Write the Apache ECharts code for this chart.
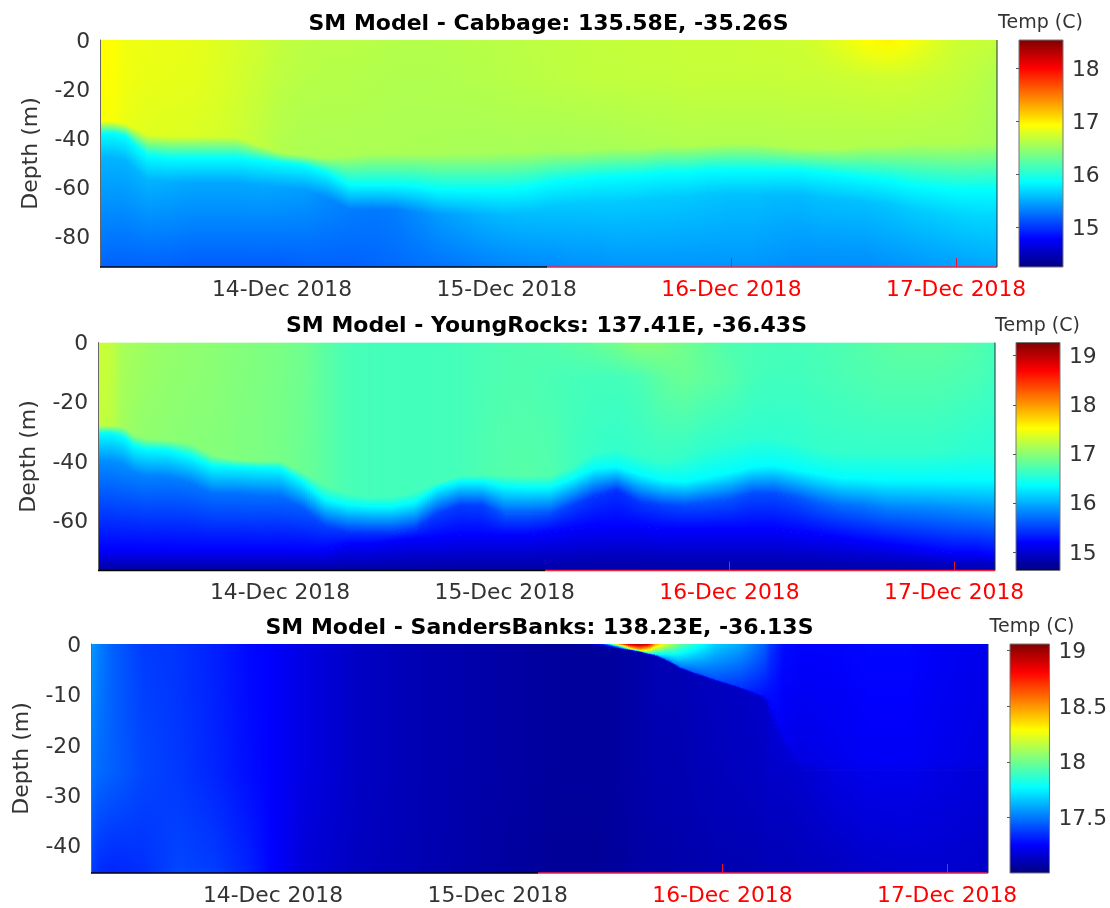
<!DOCTYPE html>
<html><head><meta charset="utf-8">
<style>html,body{margin:0;padding:0;background:#fff}#c{width:1110px;height:908px}</style>
<script src="https://cdn.jsdelivr.net/npm/echarts@6/dist/echarts.min.js"></script>
</head><body><div id="c"></div>
<script>
// Axis days (December 2018)
const dayTicks=[14,15,16,17];
const dayLabels=['14-Dec 2018','15-Dec 2018','16-Dec 2018','17-Dec 2018'];
const redTicks=[16,17];
const dayMin=13.19, dayMax=17.182, colourSwitchDay=15.18;
const jetColors=[[0,0,127],[0,0,255],[0,127,255],[0,255,255],[127,255,127],[255,255,0],[255,127,0],[255,0,0],[127,0,0]];

// Column times shared by Cabbage and YoungRocks
const times12=[13.19,13.25,13.3,13.35,13.4,13.5,13.6,13.7,13.8,13.9,14,14.1,14.2,14.3,14.4,14.5,14.6,14.7,14.8,14.9,15,15.1,15.2,15.3,15.4,15.5,15.6,15.7,15.8,15.9,16,16.1,16.2,16.3,16.4,16.5,16.6,16.7,16.8,16.9,17,17.1,17.182];

// Cabbage: depth (m) of the profile nodes and temperature at them, per column
const cabDepthS=[15,15,15,15,15,15,15,15,15,15,15,15,15,15,15,15,15,15,15,15,15,15,15,15,15,15,15,15,15,15,15,15,15,15,15,15,15,15,15,15,15,15,15];
const cabDepth1=[33,33,34,36,38.5,39,39,39,39.5,43,46,47,48,47,46,46,46,46,46,46,45.5,45.5,45,45,44.5,44,44,43,43,42.5,42,42,43,44,44,44,43,43,42,42,42,42,42];
const cabDepth2=[38,38,39,43,47,48,48,48,48,49,50,51,54,59,59,59,59.5,61,61,61,61,60,58,57,56,55.5,55,54,54,53,53,53,53,53,54,55,56,57,59,60,61,61,61];
const cabDepth3=[48,48,49,53,57,58,58,58,58,59,60,61,64,69,69,69,70,71,71,71,71,70,68,67,66,66,65,64,64,63,63,63,63,63,64,65,66,67,69,70,71,71,71];
const cabTemp0=[16.93,16.93,16.87,16.86,16.85,16.84,16.83,16.8,16.76,16.72,16.67,16.65,16.64,16.64,16.63,16.62,16.62,16.62,16.63,16.63,16.64,16.65,16.66,16.67,16.68,16.68,16.69,16.69,16.7,16.7,16.7,16.71,16.71,16.72,16.76,16.84,16.93,16.97,16.9,16.8,16.72,16.7,16.68];
const cabTempS=[16.93,16.92,16.87,16.85,16.84,16.83,16.82,16.79,16.75,16.7,16.65,16.63,16.62,16.62,16.61,16.6,16.6,16.6,16.61,16.62,16.63,16.64,16.65,16.66,16.67,16.67,16.68,16.68,16.69,16.69,16.69,16.69,16.69,16.7,16.7,16.71,16.72,16.73,16.72,16.7,16.68,16.64,16.6];
const cabTemp1=[16.9,16.9,16.85,16.82,16.8,16.79,16.78,16.76,16.72,16.66,16.6,16.58,16.58,16.58,16.58,16.58,16.57,16.57,16.56,16.56,16.56,16.56,16.55,16.56,16.56,16.57,16.58,16.59,16.6,16.6,16.6,16.6,16.6,16.6,16.6,16.6,16.6,16.6,16.6,16.6,16.6,16.58,16.55];
const cabTemp2=[15.86,15.86,15.86,15.86,15.86,15.86,15.86,15.86,15.86,15.86,15.86,15.86,15.86,15.86,15.86,15.86,15.86,15.86,15.86,15.86,15.86,15.86,15.86,15.86,15.86,15.86,15.86,15.86,15.86,15.86,15.86,15.86,15.86,15.86,15.86,15.86,15.86,15.86,15.86,15.86,15.86,15.86,15.86];
const cabTemp3=[15.55,15.55,15.55,15.55,15.55,15.52,15.5,15.5,15.5,15.5,15.48,15.45,15.38,15.32,15.3,15.32,15.38,15.45,15.5,15.55,15.58,15.6,15.62,15.63,15.64,15.64,15.64,15.64,15.63,15.62,15.6,15.6,15.58,15.58,15.6,15.6,15.6,15.62,15.64,15.66,15.68,15.7,15.7];
const cabTemp4=[15.22,15.2,15.2,15.2,15.2,15.2,15.18,15.18,15.18,15.18,15.18,15.2,15.2,15.2,15.22,15.24,15.26,15.28,15.3,15.33,15.35,15.37,15.38,15.4,15.4,15.42,15.42,15.42,15.42,15.42,15.42,15.42,15.4,15.38,15.38,15.38,15.38,15.4,15.42,15.44,15.46,15.48,15.5];

// YoungRocks
const yrDepthS=[12,12,12,12,12,12,12,12,12,12,12,12,12,12,12,12,12,12,12,12,12,12,12,12,12,12,12,12,12,12,12,12,12,12,12,12,12,12,12,12,12,12,12];
const yrDepth1=[28,28,28.4,31,32.5,33,34,38,39.5,40,40,43.6,48,51,52,52,50.5,47.5,45,44.7,44.7,45,45,42,37,36,38,40,39,36,34,32,32,34,36,37,37,37,37,37,37,37,37];
const yrDepth2=[30.7,30.7,31.8,35,36,36.3,38.5,41.8,42,42.3,42.5,47,53,54.8,55.4,55.4,54,49,47,47,48.7,49,49,46,42.5,42,44.5,46.5,47,45.5,44,42,41.5,43,44.5,45.8,46,46.4,46.4,46.4,46.4,46.4,46.4];
const yrDepth3=[40,40,41,44,45,45.5,47.5,51,51,51.5,52,56,62,64,64.5,64.5,63,58,55,55,58,58,58,55,52,50,54,55,55,54,53,51,51,52.5,54,55,55,56,56,56,56,56,56];
const yrDepth4=[70,70,70,70,70,70,70,70,70,70,70,70,70,68,68,67,66,66,65,65,65,65,64,63,62,62,62,63,63,63,63,63,63,64,65,66,67,68,69,70,71,71,72];
const yrTemp0=[17.29,17.25,17.12,17.1,17.08,17.04,17.02,17,16.97,16.95,16.92,16.88,16.78,16.7,16.68,16.67,16.67,16.67,16.68,16.7,16.72,16.73,16.74,16.78,16.82,16.9,17,16.96,16.88,16.8,16.72,16.7,16.68,16.68,16.7,16.72,16.75,16.78,16.8,16.8,16.78,16.74,16.68];
const yrTempS=[17.28,17.24,17.12,17.09,17.06,17.03,17.01,16.99,16.96,16.94,16.91,16.87,16.78,16.7,16.68,16.67,16.67,16.67,16.68,16.7,16.72,16.72,16.7,16.68,16.67,16.67,16.7,16.8,16.85,16.8,16.76,16.68,16.66,16.66,16.68,16.7,16.72,16.74,16.74,16.74,16.72,16.7,16.65];
const yrTemp1=[17.25,17.22,17.1,17.05,17.02,17,16.98,16.97,16.95,16.93,16.9,16.85,16.78,16.7,16.68,16.67,16.67,16.67,16.68,16.72,16.75,16.76,16.74,16.66,16.62,16.6,16.62,16.62,16.6,16.58,16.58,16.58,16.58,16.58,16.6,16.6,16.6,16.6,16.6,16.6,16.58,16.56,16.55];
const yrTemp2=[16.36,16.36,16.36,16.36,16.36,16.36,16.36,16.36,16.36,16.36,16.36,16.36,16.36,16.36,16.36,16.36,16.36,16.36,16.36,16.36,16.36,16.36,16.36,16.36,16.36,16.36,16.36,16.36,16.36,16.36,16.36,16.36,16.36,16.36,16.36,16.36,16.36,16.36,16.36,16.36,16.36,16.36,16.36];
const yrTemp3=[15.85,15.85,15.85,15.8,15.8,15.78,15.75,15.72,15.72,15.72,15.7,15.62,15.5,15.45,15.42,15.42,15.45,15.48,15.48,15.5,15.6,15.6,15.55,15.5,15.45,15.42,15.45,15.5,15.55,15.58,15.58,15.55,15.55,15.58,15.65,15.7,15.75,15.78,15.8,15.82,15.85,15.88,15.9];
const yrTemp4=[15.2,15.2,15.2,15.2,15.2,15.2,15.2,15.2,15.2,15.2,15.2,15.2,15.2,15.2,15.2,15.2,15.2,15.2,15.2,15.2,15.2,15.2,15.2,15.2,15.2,15.2,15.2,15.2,15.2,15.2,15.2,15.2,15.2,15.2,15.2,15.2,15.2,15.2,15.2,15.2,15.2,15.2,15.2];
const yrTemp5=[14.78,14.78,14.78,14.78,14.78,14.78,14.78,14.78,14.78,14.78,14.78,14.78,14.78,14.78,14.78,14.78,14.78,14.78,14.78,14.78,14.78,14.78,14.78,14.78,14.78,14.78,14.78,14.78,14.78,14.78,14.78,14.78,14.78,14.78,14.78,14.78,14.78,14.78,14.78,14.78,14.78,14.78,14.78];

// SandersBanks
const times3=[13.19,13.23,13.29,13.42,13.58,13.74,13.9,13.98,14.14,14.38,14.7,15,15.25,15.4,15.45,15.49,15.54,15.59,15.63,15.67,15.7,15.75,15.81,15.87,15.97,16.08,16.19,16.21,16.27,16.35,16.5,16.66,16.82,16.98,17.182];
const sbDepth1=[0,0,0,0,0,0,0,0,0,0,0,0,0,0,0,0.3,0.6,0.9,1.2,1.7,2,3,4.5,5.5,7,8.5,10.2,12.5,18,23.5,23.5,23.5,23.5,23.5,23.5];
const sbDepth2=[0.4,0.4,0.4,0.4,0.4,0.4,0.4,0.4,0.4,0.4,0.4,0.4,0.4,0.4,0.4,0.7,1,1.3,1.6,2.1,2.4,3.4,4.9,5.9,7.4,8.9,11.2,14,20,25,25,25,25,25,25];
const sbDepth3=[25.5,25.5,25.5,25.5,25.5,25.5,25.5,25.5,25.5,25.5,25.5,25.5,25.5,25.5,25.5,25.5,25.5,25.5,25.5,25.5,25.5,25.5,25.5,25.5,25.5,25.5,25.5,25.5,25.5,25.5,25.5,25.5,25.5,25.5,25.5];
const sbTemp0=[17.58,17.52,17.45,17.38,17.34,17.32,17.27,17.26,17.2,17.14,17.1,17.08,17.06,17.06,17.3,17.6,18.6,18.95,18.98,18.9,18.5,18.2,17.98,17.85,17.68,17.6,17.45,17.38,17.28,17.26,17.26,17.27,17.27,17.24,17.22];
const sbTemp1=[17.58,17.52,17.45,17.38,17.34,17.32,17.27,17.26,17.2,17.14,17.1,17.08,17.06,17.06,17.3,17.3,17.6,18.3,18.4,18,17.75,17.55,17.5,17.45,17.42,17.36,17.28,17.25,17.23,17.2,17.22,17.24,17.24,17.22,17.2];
const sbTemp2=[17.57,17.51,17.45,17.38,17.36,17.32,17.27,17.26,17.2,17.14,17.1,17.08,17.06,17.06,17.06,17.06,17.07,17.08,17.09,17.1,17.11,17.11,17.11,17.12,17.13,17.14,17.15,17.17,17.18,17.16,17.2,17.22,17.22,17.2,17.18];
const sbTemp3=[17.5,17.47,17.45,17.4,17.37,17.33,17.28,17.26,17.2,17.14,17.1,17.08,17.06,17.06,17.06,17.06,17.07,17.08,17.09,17.09,17.1,17.1,17.1,17.11,17.12,17.13,17.14,17.15,17.15,17.16,17.2,17.22,17.22,17.2,17.18];
const sbTemp4=[17.38,17.34,17.33,17.35,17.4,17.38,17.32,17.27,17.18,17.13,17.1,17.07,17.05,17.05,17.05,17.06,17.06,17.07,17.07,17.08,17.08,17.08,17.09,17.09,17.1,17.1,17.11,17.11,17.11,17.12,17.13,17.15,17.16,17.16,17.15];

const zeros=n=>new Array(n).fill(0);
const flat=(v,n)=>new Array(n).fill(v);
const panels=[
 {title:'SM Model - Cabbage: 135.58E, -35.26S',left:100,top:40,h:227,barLeft:1019,titleY:8,unitY:9,unitX:1035.5,bottom:92.3,yTicks:[0,-20,-40,-60,-80],cmin:14.26,cmax:18.53,cTicks:[15,16,17,18],times:times12,
  depths:[zeros(43),cabDepthS,cabDepth1,cabDepth2,cabDepth3,flat(92.3,43)],temps:[cabTemp0,cabTempS,cabTemp1,cabTemp2,cabTemp3,cabTemp4]},
 {title:'SM Model - YoungRocks: 137.41E, -36.43S',left:98,top:342.5,h:228,barLeft:1016,titleY:310,unitY:312,unitX:1032.5,bottom:77,yTicks:[0,-20,-40,-60],cmin:14.62,cmax:19.27,cTicks:[15,16,17,18,19],times:times12,
  depths:[zeros(43),yrDepthS,yrDepth1,yrDepth2,yrDepth3,yrDepth4,flat(77,43)],temps:[yrTemp0,yrTempS,yrTemp1,yrTemp2,yrTemp3,yrTemp4,yrTemp5]},
 {title:'SM Model - SandersBanks: 138.23E, -36.13S',left:91,top:644,h:229,barLeft:1010,titleY:612,unitY:613,unitX:1027,bottom:45.4,yTicks:[0,-10,-20,-30,-40],cmin:17,cmax:19.06,cTicks:[17.5,18,18.5,19],times:times3,
  depths:[zeros(35),sbDepth1,sbDepth2,sbDepth3,flat(45.4,35)],temps:[sbTemp0,sbTemp1,sbTemp2,sbTemp3,sbTemp4]}
];

const FONT='DejaVu Sans', TXT='#333';
function jet(v,min,max){
  let t=(v-min)/(max-min)*8; t=Math.max(0,Math.min(7.9999,t));
  const i=Math.floor(t),f=t-i,a=jetColors[i],b=jetColors[i+1];
  return 'rgb('+[0,1,2].map(k=>Math.round(a[k]+(b[k]-a[k])*f)).join(',')+')';
}
function gradient(y0,y1,v0,v1,min,max){
  const n=2+Math.ceil(Math.abs(v1-v0)/(max-min)*24),stops=[];
  for(let k=0;k<n;k++){const o=k/(n-1);stops.push({offset:o,color:jet(v0+(v1-v0)*o,min,max)});}
  return new echarts.graphic.LinearGradient(0,y0,0,y1,stops,true);
}
function sectionRenderer(p){
  return function(params,api){
    const c=api.value(0),l=api.value(1),t0=p.times[c],t1=p.times[c+1];
    const xa=api.coord([t0,0])[0],xb=api.coord([t1,0])[0],n=Math.max(1,Math.ceil((xb-xa)/2.5)),w=(xb-xa)/n,children=[];
    for(let s=0;s<n;s++){
      const f=(s+.5)/n,at=a=>a[c]+(a[c+1]-a[c])*f;
      const ya=api.coord([t0,-at(p.depths[l])])[1],yb=api.coord([t0,-at(p.depths[l+1])])[1];
      if(yb-ya<.05)continue;
      children.push({type:'rect',silent:true,shape:{x:xa+s*w,y:ya,width:w+1,height:yb-ya+.6},
        style:{fill:gradient(ya,yb,at(p.temps[l]),at(p.temps[l+1]),p.cmin,p.cmax)}});
    }
    return {type:'group',children};
  };
}
function barRenderer(p){
  return function(params,api){
    const a=api.coord([0,p.cmax]),b=api.coord([1,p.cmin]);
    const stops=[];
    for(let k=0;k<=64;k++)stops.push({offset:k/64,color:jet(p.cmax-(p.cmax-p.cmin)*k/64,p.cmin,p.cmax)});
    return {type:'rect',silent:true,shape:{x:a[0],y:a[1],width:b[0]-a[0],height:b[1]-a[1]},
      style:{fill:new echarts.graphic.LinearGradient(0,0,0,1,stops),stroke:'#777',lineWidth:1}};
  };
}
const grid=[],xAxis=[],yAxis=[],series=[],title=[];
panels.forEach((p,i)=>{
  const g=i*2,b=i*2+1;
  grid.push({left:p.left,top:p.top,width:897,height:p.h},{left:p.barLeft,top:p.top,width:44,height:p.h});
  xAxis.push({type:'value',gridIndex:g,min:dayMin,max:dayMax,z:10,position:'bottom',splitLine:{show:false},axisLine:{show:false,onZero:false},
    axisTick:{show:true,inside:true,length:9,customValues:redTicks,lineStyle:{color:'#e8123a',width:1}},
    axisLabel:{customValues:dayTicks,margin:12,fontFamily:FONT,fontSize:21.8,hideOverlap:false,
      color:v=>v>=16?'#ff0000':TXT,formatter:v=>dayLabels[dayTicks.indexOf(v)]}});
  yAxis.push({type:'value',gridIndex:g,min:-p.bottom,max:0,z:10,splitLine:{show:false},
    name:'Depth (m)',nameLocation:'middle',nameGap:58,nameTextStyle:{fontFamily:FONT,fontSize:22,color:TXT},
    axisLine:{show:true,onZero:false,lineStyle:{color:'#666',width:1}},axisTick:{show:false},
    axisLabel:{customValues:p.yTicks,margin:10,verticalAlign:'top',lineHeight:4,fontFamily:FONT,fontSize:21.8,color:TXT}});
  xAxis.push({type:'value',gridIndex:b,min:0,max:1,show:false});
  yAxis.push({type:'value',gridIndex:b,min:p.cmin,max:p.cmax,position:'right',z:10,splitLine:{show:false},
    axisLine:{show:false},axisTick:{show:true,inside:true,length:3,customValues:p.cTicks,lineStyle:{color:'#555'}},
    axisLabel:{customValues:p.cTicks,margin:9,verticalAlign:'top',lineHeight:4,fontFamily:FONT,fontSize:21.8,color:TXT}});
  const cells=[];
  for(let c=0;c<p.times.length-1;c++)for(let l=0;l<p.depths.length-1;l++)cells.push([c,l]);
  series.push({type:'custom',xAxisIndex:g,yAxisIndex:g,z:1,clip:true,silent:true,progressive:0,animation:false,
    dimensions:['col','level'],encode:{x:[],y:[]},renderItem:sectionRenderer(p),data:cells});
  series.push({type:'custom',xAxisIndex:b,yAxisIndex:b,z:1,silent:true,animation:false,renderItem:barRenderer(p),data:[[0,p.cmin]],encode:{x:[],y:[]}});
  const edge=(data,color,w)=>({type:'line',xAxisIndex:g,yAxisIndex:g,z:12,clip:false,silent:true,symbol:'none',animation:false,data,lineStyle:{color,width:w}});
  series.push(edge([[dayMin,-p.bottom],[colourSwitchDay,-p.bottom]],'#000',1.5));
  series.push(edge([[colourSwitchDay,-p.bottom],[dayMax,-p.bottom]],'#f0203a',1.5));
  series.push(edge([[dayMax,0],[dayMax,-p.bottom]],'#1f3040',1));
  title.push({text:p.title,left:p.left+443.5,top:p.titleY,textAlign:'center',textStyle:{fontFamily:FONT,fontSize:22,fontWeight:'bold',color:'#000'}});
  title.push({text:'Temp (C)',left:p.unitX,top:p.unitY,textAlign:'center',textStyle:{fontFamily:FONT,fontSize:19,fontWeight:'normal',color:TXT}});
});
const chart=echarts.init(document.getElementById('c'),null,{renderer:'canvas'});
chart.setOption({animation:false,backgroundColor:'#fff',title,grid,xAxis,yAxis,series});
</script></body></html>
